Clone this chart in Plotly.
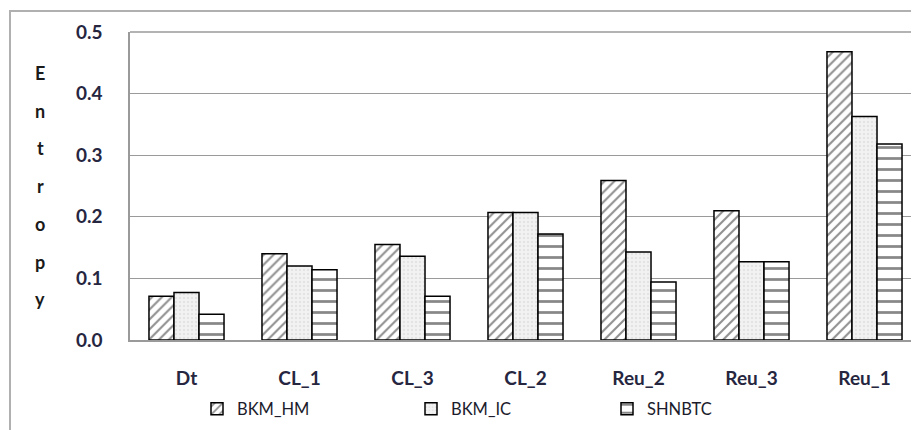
import plotly.graph_objects as go

categories = ["Dt", "CL_1", "CL_3", "CL_2", "Reu_2", "Reu_3", "Reu_1"]
bkm_hm = [0.071, 0.140, 0.155, 0.207, 0.259, 0.210, 0.468]
bkm_ic = [0.077, 0.120, 0.136, 0.207, 0.143, 0.127, 0.363]
shnbtc = [0.042, 0.114, 0.071, 0.172, 0.094, 0.127, 0.318]
y_ticks = [0.0, 0.1, 0.2, 0.3, 0.4, 0.5]
y_title = "Entropy"

# page has an 8px body margin; work in reference coords and offset
OFF = 8
W, H = 919 - OFF, 430 - OFF
L, R, T = 130 - OFF, 0, 32 - OFF
B = H - (340 - OFF)
pw, ph = W - L - R, H - T - B


def px_x(rx):
    return (rx - OFF - L) / pw


def px_y(ry):
    return 1 - (ry - OFF - T) / ph


fig = go.Figure()
fig.add_trace(go.Bar(
    name="BKM_HM", x=categories, y=bkm_hm, legend="legend",
    marker=dict(color="white", line=dict(color="black", width=1.5),
                pattern=dict(shape="/", fgcolor="#222", bgcolor="white", size=7, solidity=0.3)),
))
fig.add_trace(go.Bar(
    name="BKM_IC", x=categories, y=bkm_ic, legend="legend2",
    marker=dict(color="#ededed", line=dict(color="black", width=1.5),
                pattern=dict(shape=".", fgcolor="#d4d4d4", bgcolor="#f2f2f2", size=4, solidity=0.3)),
))
fig.add_trace(go.Bar(
    name="SHNBTC", x=categories, y=shnbtc, legend="legend3",
    marker=dict(color="white", line=dict(color="black", width=1.5),
                pattern=dict(shape="-", fgcolor="#111", bgcolor="white", size=11, solidity=0.25)),
))

tickfont = dict(family="Lato, Calibri, sans-serif", size=19, color="#262640", weight="bold")
legfont = dict(family="Lato, Calibri, sans-serif", size=16.5, color="#1c1c2c")


def leg(x_ref):
    return dict(orientation="h", x=px_x(x_ref), xanchor="left",
                y=px_y(409), yanchor="middle", font=legfont,
                itemwidth=30, bgcolor="rgba(0,0,0,0)")


fig.update_layout(
    width=W, height=H,
    margin=dict(l=L, r=R, t=T, b=B, pad=0, autoexpand=False),
    paper_bgcolor="white", plot_bgcolor="white",
    barmode="group", bargap=0.336, bargroupgap=0,
    showlegend=True,
    legend=leg(197), legend2=leg(411), legend3=leg(607),
    xaxis=dict(range=[-0.5, 6.5 - 2 / 113], showgrid=False,
               showline=True, linecolor="#9a9a9a", linewidth=1.5,
               ticks="", ticklabelstandoff=20, tickfont=tickfont, fixedrange=True),
    yaxis=dict(range=[0, 0.5], tickvals=y_ticks, tickformat=".1f",
               showgrid=True, gridcolor="#9a9a9a", gridwidth=1,
               showline=True, linecolor="#9a9a9a", linewidth=1.5,
               zeroline=False, ticks="", ticklabelstandoff=22,
               tickfont=tickfont, fixedrange=True),
)

# outer chart border
fig.add_shape(type="rect", xref="paper", yref="paper",
              x0=px_x(10), x1=px_x(940),
              y0=px_y(450), y1=px_y(11),
              line=dict(color="#b0b0b0", width=2), fillcolor="rgba(0,0,0,0)", layer="below")

# top border of plot area
fig.add_shape(type="line", xref="paper", yref="paper", x0=0, x1=1, y0=1, y1=1,
              line=dict(color="#9a9a9a", width=1.5))

# vertical stacked y-axis title
for i, ch in enumerate(y_title):
    ypx = 73 + i * 37.7
    fig.add_annotation(text=ch, xref="paper", yref="paper",
                       x=px_x(40), y=px_y(ypx),
                       showarrow=False, xanchor="center", yanchor="middle",
                       font=dict(family="Lato, Calibri, sans-serif", size=18, color="#1a1a1a", weight="bold"))

fig.write_html("out.html")
